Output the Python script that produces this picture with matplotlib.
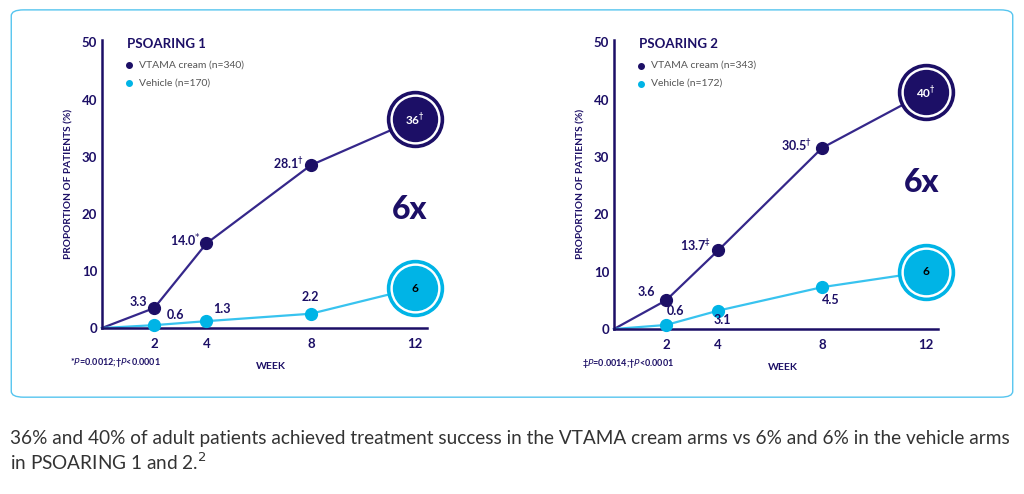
import numpy as np
import matplotlib.pyplot as plt
from matplotlib.patches import FancyBboxPatch

plt.rcParams['font.family'] = ['Lato', 'DejaVu Sans']

NAVY = '#1c0f66'
LINE_NAVY = '#35278a'
CYAN = '#00b4e6'
LINE_CYAN = '#38c3ef'

weeks = [0, 2, 4, 8, 12]
xtick_weeks = [2, 4, 8, 12]

# positions as drawn in the graphic (not to scale with the labels)
p1_vtama = [0, 3.5, 14.8, 28.5, 36.5]
p1_vehicle = [0, 0.5, 1.2, 2.5, 7.0]
p2_vtama = [0, 5.0, 13.7, 31.6, 41.3]
p2_vehicle = [0, 0.7, 3.2, 7.3, 10.0]

p1_vtama_lbl = ['3.3', '14.0$^{*}$', '28.1$^{\\dagger}$', '36$^{\\dagger}$']
p1_vehicle_lbl = ['0.6', '1.3', '2.2', '6']
p2_vtama_lbl = ['3.6', '13.7$^{\\ddagger}$', '30.5$^{\\dagger}$', '40$^{\\dagger}$']
p2_vehicle_lbl = ['0.6', '3.1', '4.5', '6']

panels = [
    dict(title='PSOARING 1', n_vtama=340, n_vehicle=170, vt=p1_vtama, ve=p1_vehicle,
         vt_lbl=p1_vtama_lbl, ve_lbl=p1_vehicle_lbl, ratio='6x', ratio_pos=(0.948, 0.41),
         foot=('*', '0.0012'), rect=[0.0996, 0.336, 0.3174, 0.584],
         vt_off=[(-5, 4, 'right'), (-4, 2, 'right'), (-5, 1, 'right')],
         ve_off=[(15, 7, 'center'), (11, 9, 'center'), (0, 12, 'center')]),
    dict(title='PSOARING 2', n_vtama=343, n_vehicle=172, vt=p2_vtama, ve=p2_vehicle,
         vt_lbl=p2_vtama_lbl, ve_lbl=p2_vehicle_lbl, ratio='6x', ratio_pos=(0.95, 0.505),
         foot=('\u2021', '0.0014'), rect=[0.5996, 0.334, 0.3164, 0.586],
         vt_off=[(-8, 6, 'right'), (-5, 3.5, 'right'), (-7, 1.5, 'right')],
         ve_off=[(7, 10, 'center'), (3, -7, 'center'), (6, -9, 'center')]),
]

fig = plt.figure(figsize=(10.24, 4.94), dpi=100)

box = FancyBboxPatch((0.011, 0.196), 0.978, 0.784, boxstyle='round,pad=0,rounding_size=0.012',
                     transform=fig.transFigure, fc='none', ec='#56c5ef', lw=1.0, zorder=-1)
fig.patches.append(box)

for p in panels:
    ax = fig.add_axes(p['rect'])
    ax.set_xlim(0, 12.45)
    ax.set_ylim(0, 50.5)
    ax.patch.set_alpha(0)
    for s in ['top', 'right']:
        ax.spines[s].set_visible(False)
    for s in ['left', 'bottom']:
        ax.spines[s].set_color(NAVY)
        ax.spines[s].set_linewidth(1.8)
    ax.set_xticks(xtick_weeks)
    ax.set_yticks([0, 10, 20, 30, 40, 50])
    ax.tick_params(length=0, colors=NAVY, labelsize=9.5)
    ax.tick_params(axis='x', pad=7)
    ax.tick_params(axis='y', pad=3.5)
    for lab in ax.get_xticklabels() + ax.get_yticklabels():
        lab.set_fontweight('bold')
    ax.set_ylabel('PROPORTION OF PATIENTS (%)', fontsize=7.3, fontweight='bold', color=NAVY)
    ax.yaxis.set_label_coords(-0.088, 0.5)
    ax.set_xlabel('WEEK', fontsize=7.5, fontweight='bold', color=NAVY)
    ax.xaxis.set_label_coords(0.52, -0.118)

    # lines
    ax.plot(weeks, p['vt'], color=LINE_NAVY, lw=1.6, zorder=2, clip_on=False)
    ax.plot(weeks, p['ve'], color=LINE_CYAN, lw=1.6, zorder=2, clip_on=False)
    ax.plot(weeks[1:4], p['vt'][1:4], 'o', color=NAVY, ms=8.5, zorder=3, clip_on=False)
    ax.plot(weeks[1:4], p['ve'][1:4], 'o', color=CYAN, ms=8.5, zorder=3, clip_on=False)

    # big end circles
    for vals, col in [(p['vt'], NAVY), (p['ve'], CYAN)]:
        ax.scatter([weeks[-1]], [vals[-1]], s=1500, facecolors='white', edgecolors=col, lw=2.6,
                   zorder=4, clip_on=False)
        ax.scatter([weeks[-1]], [vals[-1]], s=1000, color=col, zorder=5, clip_on=False)
    ax.annotate(p['vt_lbl'][-1], (weeks[-1], p['vt'][-1]), ha='center', va='center', color='white',
                fontsize=8.5, fontweight='bold', zorder=6)
    ax.annotate(p['ve_lbl'][-1], (weeks[-1], p['ve'][-1]), ha='center', va='center', color='black',
                fontsize=8.5, fontweight='bold', zorder=6)

    for i, (dx, dy, ha) in enumerate(p['vt_off']):
        ax.annotate(p['vt_lbl'][i], (weeks[i + 1], p['vt'][i + 1]), xytext=(dx, dy),
                    textcoords='offset points', ha=ha, va='center', color=NAVY,
                    fontsize=9, fontweight='bold')
    for i, (dx, dy, ha) in enumerate(p['ve_off']):
        ax.annotate(p['ve_lbl'][i], (weeks[i + 1], p['ve'][i + 1]), xytext=(dx, dy),
                    textcoords='offset points', ha=ha, va='center', color=NAVY,
                    fontsize=9, fontweight='bold')

    ax.text(*p['ratio_pos'], p['ratio'], transform=ax.transAxes, ha='center', va='center',
            fontsize=23, fontweight='black', color=NAVY)

    # title and legend
    ax.text(0.076, 0.985, p['title'], transform=ax.transAxes, ha='left', va='center',
            fontsize=9.5, fontweight='bold', color=NAVY)
    ax.plot([0.084], [0.91], 'o', ms=4, color=NAVY, transform=ax.transAxes, clip_on=False)
    ax.text(0.114, 0.91, f"VTAMA cream (n={p['n_vtama']})", transform=ax.transAxes, ha='left',
            va='center', fontsize=7.5, color='#555555')
    ax.plot([0.084], [0.848], 'o', ms=4, color=CYAN, transform=ax.transAxes, clip_on=False)
    ax.text(0.114, 0.848, f"Vehicle (n={p['n_vehicle']})", transform=ax.transAxes, ha='left',
            va='center', fontsize=7.5, color='#555555')

    sym, pv = p['foot']
    ax.text(-0.099, -0.118, f"{sym}$\\mathit{{P}}$={pv};\u2020$\\mathit{{P}}$<0.0001", transform=ax.transAxes,
            ha='left', va='center', fontsize=6.5, fontweight='bold', color=NAVY)

fig.text(0.0098, 0.113, '36% and 40% of adult patients achieved treatment success in the VTAMA cream arms '
         'vs 6% and 6% in the vehicle arms', fontsize=13.7, color='#333333', va='center')
fig.text(0.0098, 0.065, 'in PSOARING 1 and 2.$^{2}$', fontsize=13.7, color='#333333', va='center')

fig.savefig('out.png', dpi=100)
